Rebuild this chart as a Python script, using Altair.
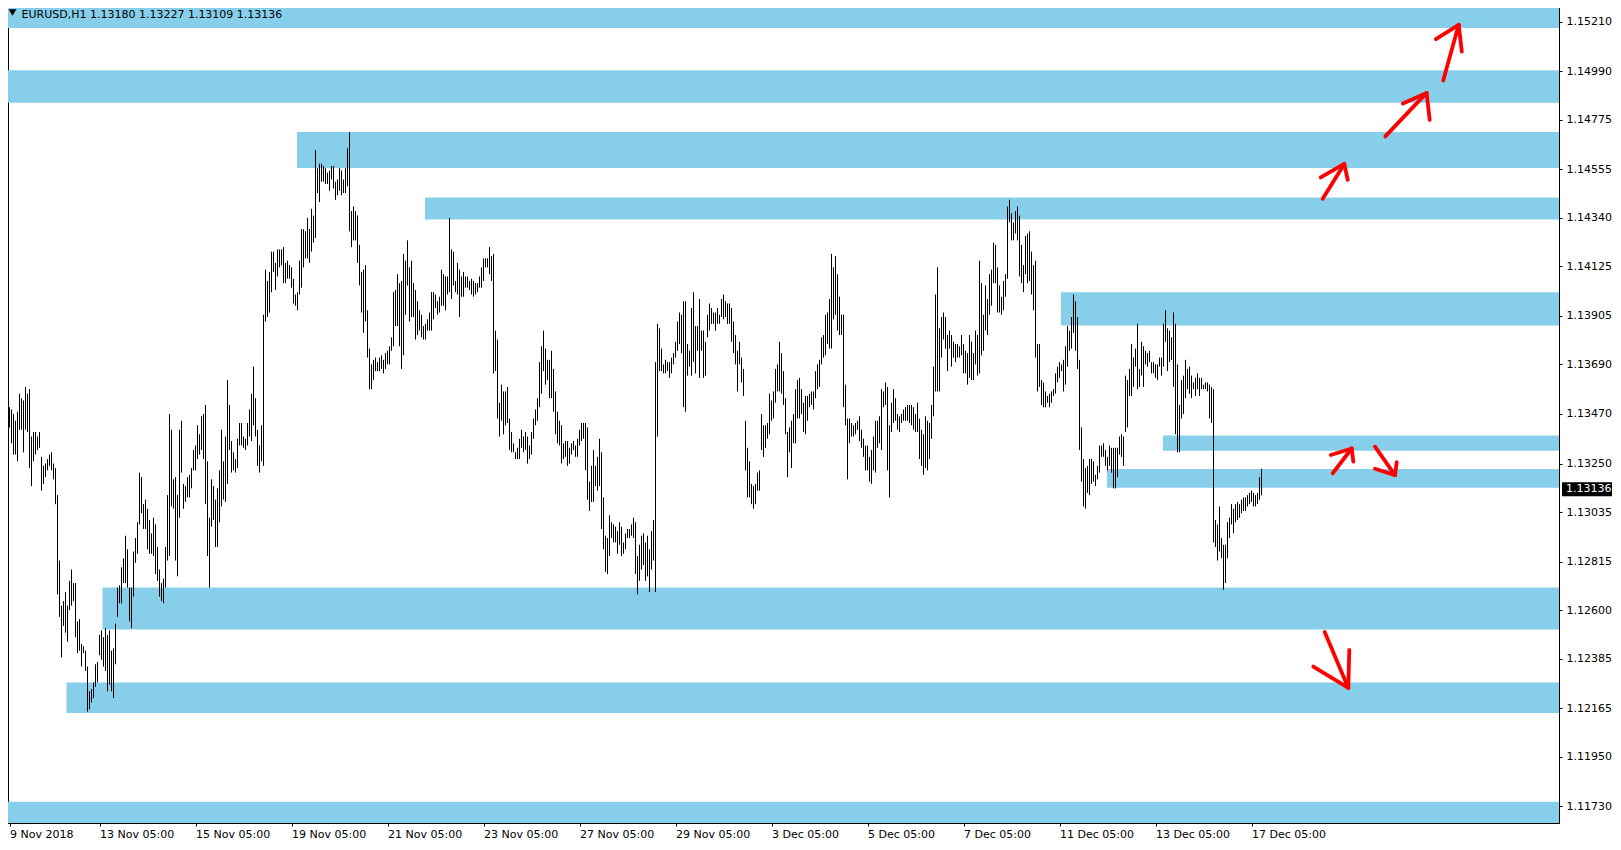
import altair as alt
import pandas as pd

# ---------------- data ----------------
symbol_header = "EURUSD,H1  1.13180 1.13227 1.13109 1.13136"
last_price = 1.13136

# hourly bars, 9 Nov 2018 05:00 .. 17 Dec 2018 08:00 (high / low)
highs = [
    1.1356,1.1348,1.1351,1.1350,1.1349,1.1347,1.1344,1.1348,1.1356,1.1354,
    1.1353,1.1359,1.1356,1.1358,1.1337,1.1339,1.1339,1.1337,1.1339,1.1328,
    1.1324,1.1325,1.1327,1.1329,1.1330,1.1325,1.1323,1.1311,1.1282,1.1262,
    1.1264,1.1268,1.1262,1.1273,1.1278,1.1272,1.1272,1.1255,1.1256,1.1245,
    1.1244,1.1242,1.1235,1.1224,1.1225,1.1228,1.1236,1.1237,1.1249,1.1251,
    1.1248,1.1252,1.1249,1.1251,1.1242,1.1243,1.1254,1.1270,1.1271,1.1279,
    1.1283,1.1293,1.1287,1.1270,1.1270,1.1286,1.1292,1.1299,1.1321,1.1319,
    1.1307,1.1309,1.1305,1.1300,1.1294,1.1301,1.1298,1.1288,1.1278,1.1272,
    1.1274,1.1288,1.1311,1.1347,1.1340,1.1318,1.1319,1.1311,1.1340,1.1344,
    1.1316,1.1315,1.1319,1.1320,1.1323,1.1331,1.1333,1.1342,1.1338,1.1346,
    1.1347,1.1351,1.1326,1.1301,1.1318,1.1315,
    1.1309,1.1314,1.1322,1.1340,1.1326,1.1337,1.1362,1.1351,1.1335,1.1330,
    1.1327,1.1336,1.1343,1.1343,1.1337,1.1336,1.1343,1.1349,1.1356,1.1368,
    1.1354,1.1340,1.1333,1.1342,1.1391,1.1411,1.1406,1.1410,1.1419,1.1419,
    1.1414,1.1420,1.1420,1.1420,1.1421,1.1414,1.1415,1.1413,1.1412,1.1407,
    1.1400,1.1401,1.1415,1.1429,1.1429,1.1428,1.1434,1.1429,1.1438,1.1435,
    1.1464,1.1456,1.1458,1.1458,1.1457,1.1456,1.1454,1.1455,1.1457,1.1457,
    1.1450,1.1451,1.1456,1.1455,1.1451,1.1456,1.1465,1.1472,1.1437,1.1439,
    1.1437,1.1435,1.1422,1.1410,1.1411,1.1413,1.1393,1.1376,1.1369,1.1371,
    1.1372,1.1370,1.1372,1.1373,1.1371,1.1374,1.1375,1.1377,1.1381,1.1401,
    1.1402,1.1409,1.1405,1.1406,1.1418,1.1415,1.1424,1.1412,1.1415,1.1405,
    1.1402,1.1397,1.1393,
    1.1391,1.1386,1.1387,1.1389,1.1392,1.1401,1.1401,1.1400,1.1397,1.1399,
    1.1411,1.1409,1.1408,1.1408,1.1434,1.1420,1.1419,1.1406,1.1414,1.1411,
    1.1408,1.1410,1.1408,1.1408,1.1406,1.1407,1.1406,1.1405,1.1405,1.1408,
    1.1412,1.1416,1.1416,1.1416,1.1421,1.1417,1.1418,1.1384,1.1380,1.1352,
    1.1360,1.1357,1.1357,1.1359,1.1345,1.1339,1.1334,1.1330,1.1332,1.1336,
    1.1340,1.1337,1.1339,1.1337,1.1333,1.1339,1.1345,1.1349,1.1354,1.1370,
    1.1377,1.1384,1.1376,1.1371,1.1371,1.1375,1.1367,1.1357,1.1348,1.1344,
    1.1342,1.1334,1.1335,1.1335,1.1332,1.1334,1.1335,1.1333,1.1336,1.1340,
    1.1343,1.1343,1.1343,1.1341,1.1317,1.1324,1.1331,1.1324,1.1328,1.1336,
    1.1330,1.1310,1.1293,1.1292,1.1302,1.1299,1.1298,1.1297,1.1295,1.1299,
    1.1297,1.1290,1.1294,1.1296,1.1296,1.1298,1.1301,1.1299,1.1284,1.1289,
    1.1293,1.1294,
    1.1290,1.1293,1.1287,1.1295,1.1300,1.1370,
    1.1387,1.1385,1.1376,1.1369,1.1371,1.1370,1.1370,1.1372,1.1374,1.1379,
    1.1388,1.1392,1.1391,1.1397,1.1397,1.1378,1.1375,1.1394,1.1401,1.1386,
    1.1386,1.1398,1.1384,1.1384,1.1379,1.1391,1.1396,1.1394,1.1392,1.1392,
    1.1394,1.1391,1.1398,1.1400,1.1397,1.1396,1.1396,1.1394,1.1388,1.1382,
    1.1375,1.1379,1.1372,1.1367,1.1344,1.1332,1.1326,1.1316,1.1315,1.1316,
    1.1321,1.1322,1.1347,1.1342,1.1342,1.1343,1.1356,1.1353,1.1357,1.1367,
    1.1369,1.1379,1.1374,1.1366,1.1354,1.1339,1.1341,1.1344,1.1347,1.1358,
    1.1362,1.1363,1.1358,1.1352,1.1355,1.1355,1.1356,1.1357,1.1357,1.1366,
    1.1369,1.1371,1.1381,1.1382,1.1391,1.1392,1.1398,1.1418,1.1412,1.1417,
    1.1409,1.1399,1.1391,1.1391,1.1360,1.1345,1.1345,1.1343,1.1342,
    1.1343,1.1344,1.1346,1.1340,1.1336,1.1333,1.1333,1.1328,1.1331,1.1337,
    1.1344,1.1344,1.1346,1.1358,1.1357,1.1361,1.1359,1.1342,1.1352,1.1358,
    1.1354,1.1347,1.1346,1.1347,1.1349,1.1350,1.1351,1.1351,1.1351,1.1350,
    1.1347,1.1352,1.1345,1.1340,1.1338,1.1346,1.1344,1.1343,1.1351,1.1368,
    1.1400,1.1412,1.1385,1.1390,1.1392,1.1390,1.1382,1.1384,1.1382,1.1379,
    1.1378,1.1378,1.1377,1.1382,1.1378,1.1375,1.1374,1.1382,1.1379,1.1374,
    1.1384,1.1382,1.1415,1.1405,1.1391,1.1404,1.1398,1.1409,1.1411,1.1423,
    1.1422,1.1412,1.1404,1.1399,1.1406,1.1409,1.1439,1.1442,1.1436,1.1432,
    1.1437,1.1439,1.1435,1.1422,1.1413,1.1426,1.1427,1.1428,1.1419,1.1413,
    1.1415,1.1378,1.1378,1.1362,1.1361,1.1357,1.1355,1.1356,1.1357,1.1358,
    1.1365,1.1368,1.1370,1.1369,
    1.1371,1.1377,1.1386,1.1384,1.1390,1.1400,1.1397,1.1390,1.1371,1.1341,
    1.1327,1.1323,1.1324,1.1327,1.1327,1.1326,1.1320,1.1324,1.1333,1.1333,
    1.1334,1.1331,1.1328,1.1333,1.1332,1.1332,1.1332,1.1332,1.1337,1.1338,
    1.1337,1.1364,1.1362,1.1367,1.1378,1.1372,1.1376,1.1387,1.1367,1.1379,
    1.1377,1.1375,1.1374,1.1375,1.1370,1.1370,1.1369,1.1369,1.1372,1.1372,
    1.1387,1.1393,1.1385,1.1384,1.1381,1.1392,1.1387,1.1369,1.1351,1.1362,
    1.1364,1.1371,1.1367,1.1368,1.1364,1.1361,1.1363,1.1365,1.1363,1.1363,
    1.1360,1.1361,1.1361,1.1360,1.1359,1.1358,1.1300,1.1298,1.1306,1.1292,
    1.1289,1.1289,1.1299,1.1301,1.1307,1.1305,1.1307,1.1308,1.1307,1.1309,
    1.1310,1.1310,1.1311,1.1312,1.1313,1.1312,1.1311,1.1312,1.1319,1.13227,
]
lows = [
    1.1340,1.1340,1.1344,1.1341,1.1334,1.1329,1.1329,1.1326,1.1340,1.1340,
    1.1330,1.1340,1.1339,1.1323,1.1315,1.1326,1.1329,1.1331,1.1332,1.1313,
    1.1316,1.1319,1.1322,1.1324,1.1322,1.1318,1.1307,1.1267,1.1257,1.1239,
    1.1253,1.1250,1.1246,1.1260,1.1262,1.1264,1.1248,1.1241,1.1242,1.1235,
    1.1241,1.1233,1.1215,1.1216,1.1219,1.1221,1.1226,1.1228,1.1240,1.1238,
    1.1235,1.1233,1.1224,1.1227,1.1224,1.1221,1.1236,1.1257,1.1263,1.1263,
    1.1272,1.1272,1.1270,1.1255,1.1252,1.1266,1.1281,1.1285,1.1298,1.1303,
    1.1296,1.1296,1.1287,1.1285,1.1285,1.1284,1.1276,1.1273,1.1266,1.1264,
    1.1263,1.1270,1.1282,1.1284,1.1306,1.1305,1.1282,1.1275,1.1301,1.1321,
    1.1305,1.1308,1.1310,1.1310,1.1314,1.1322,1.1322,1.1327,1.1329,1.1331,
    1.1327,1.1307,1.1284,1.1270,1.1297,1.1300,
    1.1288,1.1288,1.1299,1.1306,1.1309,1.1308,1.1316,1.1331,1.1321,1.1322,
    1.1321,1.1323,1.1333,1.1333,1.1332,1.1331,1.1333,1.1337,1.1335,1.1342,
    1.1337,1.1324,1.1321,1.1326,1.1324,1.1388,1.1390,1.1392,1.1401,1.1410,
    1.1402,1.1408,1.1412,1.1413,1.1405,1.1405,1.1407,1.1407,1.1403,1.1396,
    1.1395,1.1393,1.1400,1.1403,1.1412,1.1416,1.1416,1.1414,1.1419,1.1423,
    1.1425,1.1445,1.1441,1.1450,1.1450,1.1449,1.1449,1.1446,1.1451,1.1447,
    1.1442,1.1444,1.1446,1.1444,1.1445,1.1445,1.1448,1.1428,1.1421,1.1424,
    1.1424,1.1414,1.1404,1.1392,1.1383,1.1388,1.1372,1.1358,1.1358,1.1362,
    1.1366,1.1366,1.1366,1.1367,1.1365,1.1367,1.1369,1.1369,1.1375,1.1377,
    1.1386,1.1386,1.1377,1.1367,1.1373,1.1391,1.1404,1.1388,1.1390,1.1390,
    1.1380,1.1382,1.1384,
    1.1381,1.1380,1.1380,1.1384,1.1384,1.1384,1.1389,1.1394,1.1391,1.1392,
    1.1395,1.1395,1.1393,1.1400,1.1401,1.1398,1.1404,1.1401,1.1400,1.1390,
    1.1399,1.1399,1.1403,1.1403,1.1402,1.1400,1.1399,1.1400,1.1401,1.1403,
    1.1403,1.1406,1.1412,1.1412,1.1409,1.1406,1.1365,1.1366,1.1345,1.1337,
    1.1344,1.1338,1.1342,1.1343,1.1331,1.1330,1.1330,1.1327,1.1327,1.1327,
    1.1332,1.1330,1.1331,1.1325,1.1327,1.1329,1.1336,1.1342,1.1344,1.1350,
    1.1356,1.1366,1.1360,1.1362,1.1354,1.1354,1.1348,1.1338,1.1334,1.1333,
    1.1325,1.1327,1.1328,1.1324,1.1325,1.1329,1.1331,1.1328,1.1328,1.1333,
    1.1335,1.1336,1.1322,1.1309,1.1304,1.1308,1.1308,1.1315,1.1313,1.1315,
    1.1296,1.1287,1.1277,1.1276,1.1284,1.1292,1.1290,1.1290,1.1285,1.1289,
    1.1284,1.1285,1.1287,1.1292,1.1292,1.1293,1.1292,1.1276,1.1267,1.1273,
    1.1278,1.1280,
    1.1273,1.1275,1.1268,1.1278,1.1282,1.1268,
    1.1337,1.1366,1.1366,1.1365,1.1365,1.1366,1.1363,1.1365,1.1369,1.1372,
    1.1375,1.1378,1.1374,1.1350,1.1348,1.1364,1.1368,1.1364,1.1370,1.1365,
    1.1375,1.1363,1.1375,1.1363,1.1364,1.1381,1.1384,1.1387,1.1387,1.1384,
    1.1387,1.1387,1.1390,1.1389,1.1390,1.1387,1.1387,1.1379,1.1374,1.1369,
    1.1357,1.1369,1.1361,1.1355,1.1322,1.1310,1.1310,1.1307,1.1305,1.1307,
    1.1313,1.1313,1.1331,1.1328,1.1332,1.1336,1.1338,1.1344,1.1345,1.1352,
    1.1357,1.1357,1.1356,1.1351,1.1338,1.1319,1.1330,1.1323,1.1334,1.1334,
    1.1345,1.1345,1.1347,1.1339,1.1338,1.1344,1.1350,1.1351,1.1349,1.1354,
    1.1358,1.1359,1.1369,1.1372,1.1373,1.1378,1.1376,1.1376,1.1389,1.1391,
    1.1384,1.1382,1.1382,1.1350,1.1342,1.1318,1.1334,1.1337,1.1337,
    1.1338,1.1340,1.1335,1.1332,1.1328,1.1322,1.1322,1.1317,1.1316,1.1322,
    1.1321,1.1332,1.1334,1.1331,1.1350,1.1351,1.1322,1.1310,1.1339,1.1343,
    1.1344,1.1340,1.1339,1.1343,1.1344,1.1344,1.1344,1.1343,1.1342,1.1340,
    1.1339,1.1339,1.1327,1.1324,1.1320,1.1323,1.1322,1.1327,1.1336,1.1346,
    1.1357,1.1357,1.1357,1.1372,1.1380,1.1376,1.1366,1.1376,1.1368,1.1372,
    1.1370,1.1372,1.1372,1.1373,1.1365,1.1365,1.1360,1.1363,1.1362,1.1362,
    1.1369,1.1364,1.1365,1.1373,1.1375,1.1384,1.1382,1.1391,1.1395,1.1405,
    1.1405,1.1392,1.1392,1.1391,1.1393,1.1399,1.1407,1.1432,1.1424,1.1424,
    1.1427,1.1424,1.1408,1.1405,1.1401,1.1409,1.1405,1.1406,1.1400,1.1393,
    1.1372,1.1357,1.1359,1.1351,1.1350,1.1350,1.1352,1.1350,1.1352,1.1355,
    1.1356,1.1361,1.1363,1.1366,
    1.1357,1.1360,1.1368,1.1375,1.1376,1.1383,1.1375,1.1367,1.1331,1.1317,
    1.1306,1.1305,1.1312,1.1311,1.1316,1.1317,1.1315,1.1318,1.1321,1.1328,
    1.1328,1.1324,1.1322,1.1324,1.1321,1.1314,1.1314,1.1319,1.1329,1.1328,
    1.1324,1.1339,1.1341,1.1355,1.1355,1.1359,1.1368,1.1358,1.1359,1.1364,
    1.1359,1.1369,1.1368,1.1370,1.1365,1.1365,1.1363,1.1362,1.1368,1.1364,
    1.1368,1.1379,1.1366,1.1370,1.1371,1.1359,1.1338,1.1330,1.1330,1.1345,
    1.1347,1.1354,1.1358,1.1356,1.1354,1.1358,1.1355,1.1358,1.1355,1.1358,
    1.1358,1.1358,1.1357,1.1345,1.1343,1.1290,1.1288,1.1282,1.1286,1.1283,
    1.1269,1.1272,1.1283,1.1292,1.1298,1.1294,1.1299,1.1300,1.1301,1.1303,
    1.1304,1.1304,1.1306,1.1307,1.1308,1.1306,1.1306,1.1307,1.1309,1.13109,
]

date_tick_bars = [3, 48, 96, 144, 192, 240, 288, 336, 384, 432, 480, 528, 576, 624]
date_tick_labels = ["9 Nov 2018", "13 Nov 05:00", "15 Nov 05:00", "19 Nov 05:00",
                    "21 Nov 05:00", "23 Nov 05:00", "27 Nov 05:00", "29 Nov 05:00",
                    "3 Dec 05:00", "5 Dec 05:00", "7 Dec 05:00", "11 Dec 05:00",
                    "13 Dec 05:00", "17 Dec 05:00"]

price_ticks = [1.15210, 1.14990, 1.14775, 1.14555, 1.14340, 1.14125, 1.13905, 1.13690,
               1.13470, 1.13250, 1.13035, 1.12815, 1.12600, 1.12385, 1.12165, 1.11950,
               1.11730]

# support / resistance zones (start bar, upper price, lower price)
zone_start_bar = [0, 0, 146.75, 210.75, 528.75, 579.75, 551.75, 49.5, 31.5, 0]
zone_upper = [1.1535, 1.14994, 1.14721, 1.14430, 1.14010, 1.13375, 1.13226, 1.12700, 1.12279, 1.11750]
zone_lower = [1.15182, 1.14850, 1.14561, 1.14333, 1.13862, 1.13307, 1.13143, 1.12514, 1.12144, 1.1160]

# hand-drawn red arrows: each stroke from (bar, price) to (bar, price)
arrow_bar_a = [659.6, 670.4, 670.4, 690.9, 711.55, 711.55, 719.85, 727.6, 727.6,
               664.6, 674.1, 674.1, 685.75, 695.75, 695.75, 660.6, 672.4, 672.4]
arrow_price_a = [1.14424, 1.14579, 1.14579, 1.14701, 1.14894, 1.14894, 1.14949, 1.15196, 1.15196,
                 1.13207, 1.13317, 1.13317, 1.13325, 1.13199, 1.13199, 1.12503, 1.12255, 1.12255]
arrow_bar_b = [670.4, 658.6, 672.1, 711.55, 699.7, 713.1, 727.6, 716.2, 729.15,
               674.1, 663.6, 674.9, 695.75, 685.75, 696.6, 672.4, 654.9, 672.9]
arrow_price_b = [1.14579, 1.14519, 1.14508, 1.14894, 1.14847, 1.14774, 1.15196, 1.15132, 1.15077,
                 1.13317, 1.13288, 1.13259, 1.13199, 1.13227, 1.13256, 1.12255, 1.12350, 1.12424]

# ---------------- chart ----------------
PLOT_W = 1551
PLOT_H = 815
FONT = "DejaVu Sans"

x_scale = alt.Scale(domain=[2.25, 777.75], nice=False, zero=False)
y_scale = alt.Scale(domain=[1.11656, 1.152705], nice=False, zero=False)

label_expr = "''"
for v, t in reversed(list(zip(date_tick_bars, date_tick_labels))):
    label_expr = f"datum.value == {v} ? '{t}' : ({label_expr})"

x_axis = alt.Axis(values=date_tick_bars, labelExpr=label_expr, title=None, grid=False,
                  orient="bottom", tickSize=3, labelPadding=2, labelAlign="left",
                  labelBaseline="top", labelFont=FONT, labelFontSize=11,
                  labelColor="black", tickColor="black", domainColor="black",
                  labelOverlap=False, labelFlush=False, labelBound=False)
y_axis = alt.Axis(values=price_ticks, format=".5f", title=None, grid=False,
                  orient="right", tickSize=3, labelPadding=4, labelFont=FONT,
                  labelFontSize=11, labelColor="black", tickColor="black",
                  domainColor="black", labelOverlap=False, labelFlush=False)

zones_df = pd.DataFrame({"start": zone_start_bar, "upper": zone_upper, "lower": zone_lower})
zones = alt.Chart(zones_df).mark_rect(color="#87CEEB", clip=True).encode(
    x=alt.X("start:Q", scale=x_scale, axis=x_axis),
    x2=alt.value(PLOT_W),
    y=alt.Y("upper:Q", scale=y_scale, axis=y_axis),
    y2="lower:Q",
)

bars_df = pd.DataFrame({"bar": list(range(len(highs))), "high": highs, "low": lows})
bars = alt.Chart(bars_df).mark_rule(color="black", strokeWidth=1, clip=True).encode(
    x=alt.X("bar:Q", scale=x_scale, axis=x_axis),
    y=alt.Y("low:Q", scale=y_scale, axis=y_axis),
    y2="high:Q",
)

arrows_df = pd.DataFrame({"xa": arrow_bar_a, "ya": arrow_price_a,
                          "xb": arrow_bar_b, "yb": arrow_price_b})
arrows = alt.Chart(arrows_df).mark_rule(color="#FF0000", strokeWidth=3.8, strokeCap="round").encode(
    x=alt.X("xa:Q", scale=x_scale, axis=x_axis),
    x2="xb:Q",
    y=alt.Y("ya:Q", scale=y_scale, axis=y_axis),
    y2="yb:Q",
)

price_df = pd.DataFrame({"price": [last_price]})
price_box = alt.Chart(price_df).transform_calculate(
    box_top="datum.price + 0.00031", box_bottom="datum.price - 0.00031"
).mark_rect(color="black").encode(
    x=alt.value(PLOT_W + 3), x2=alt.value(PLOT_W + 53),
    y=alt.Y("box_top:Q", scale=y_scale, axis=y_axis), y2="box_bottom:Q",
)
price_text = alt.Chart(price_df).mark_text(
    align="left", baseline="middle", color="white", font=FONT, fontSize=11
).encode(
    x=alt.value(PLOT_W + 7),
    y=alt.Y("price:Q", scale=y_scale, axis=y_axis),
    text=alt.Text("price:Q", format=".5f"),
)

header_df = pd.DataFrame({"t": [symbol_header]})
header = alt.Chart(header_df).mark_text(
    align="left", baseline="top", color="black", font=FONT, fontSize=11
).encode(x=alt.value(13.5), y=alt.value(1), text="t:N")
triangle = alt.Chart(header_df).mark_point(
    shape="triangle-down", filled=True, color="black", size=60, opacity=1
).encode(x=alt.value(4.5), y=alt.value(4.5))

chart = alt.layer(zones, bars, arrows, price_box, price_text, header, triangle).properties(
    width=PLOT_W, height=PLOT_H, padding=0, background="white"
).configure_view(stroke="black", strokeWidth=1)

chart.save("out.html", embed_options={"renderer": "svg", "actions": False})
